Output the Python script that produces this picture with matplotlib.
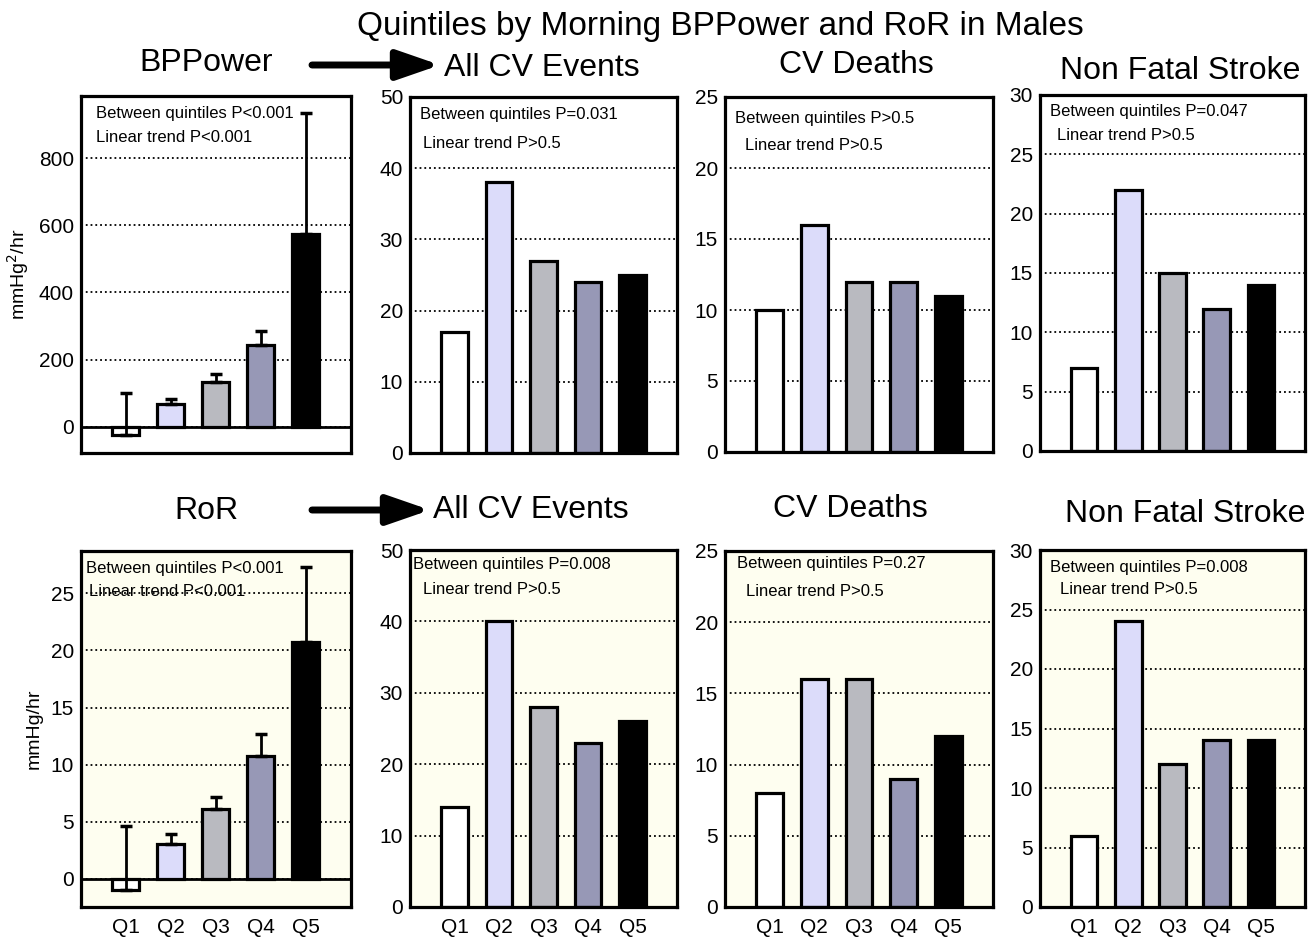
import matplotlib
matplotlib.use("Agg")
import matplotlib.pyplot as plt
from matplotlib.patches import FancyArrowPatch

plt.rcParams['font.family'] = ['Liberation Sans', 'DejaVu Sans']

quintiles = ["Q1", "Q2", "Q3", "Q4", "Q5"]
bar_colors = ["#ffffff", "#dcdcfa", "#b9bac0", "#9798b6", "#000000"]

# top row: BPPower quintiles
bpp_mean = [-25, 68, 133, 243, 575]
bpp_upper = [100, 83, 157, 284, 933]
bpp_all_cv = [17, 38, 27, 24, 25]
bpp_cv_deaths = [10, 16, 12, 12, 11]
bpp_stroke = [7, 22, 15, 12, 14]

# bottom row: RoR quintiles
ror_mean = [-1.0, 3.1, 6.1, 10.8, 20.7]
ror_upper = [4.6, 3.9, 7.2, 12.7, 27.3]
ror_all_cv = [14, 40, 28, 23, 26]
ror_cv_deaths = [8, 16, 16, 9, 12]
ror_stroke = [6, 24, 12, 14, 14]

top_notes = [("Between quintiles P<0.001", "Linear trend P<0.001"),
             ("Between quintiles P=0.031", "Linear trend P>0.5"),
             ("Between quintiles P>0.5", "Linear trend P>0.5"),
             ("Between quintiles P=0.047", "Linear trend P>0.5")]
bot_notes = [("Between quintiles P<0.001", "Linear trend P<0.001"),
             ("Between quintiles P=0.008", "Linear trend P>0.5"),
             ("Between quintiles P=0.27", "Linear trend P>0.5"),
             ("Between quintiles P=0.008", "Linear trend P>0.5")]

W, H = 1314, 940
fig = plt.figure(figsize=(W / 100, H / 100), dpi=100)

lefts = [81, 410, 725, 1040]
widths = [270, 267, 268, 265]


def make_ax(col, top_px, bot_px, bg):
    ax = fig.add_axes([lefts[col] / W, 1 - bot_px / H, widths[col] / W, (bot_px - top_px) / H])
    ax.set_facecolor(bg)
    for s in ax.spines.values():
        s.set_linewidth(2.3)
    ax.tick_params(axis='both', length=0, labelsize=15, pad=5)
    ax.tick_params(axis='x', pad=8)
    ax.set_xlim(-1, 5)
    ax.grid(axis='y', linestyle=':', color='black', linewidth=1.3)
    ax.set_axisbelow(True)
    return ax


def draw(ax, vals, ylim, yticks, notes, note_pos, upper=None, show_x=False):
    x = list(range(5))
    ax.bar(x, vals, width=0.6, color=bar_colors, edgecolor='black', linewidth=2.3, zorder=2)
    if upper is not None:
        err = [u - v for u, v in zip(upper, vals)]
        ax.errorbar(x, vals, yerr=[[0] * 5, err], fmt='none', ecolor='black',
                    elinewidth=2, capsize=4, capthick=2.5, zorder=3)
        ax.axhline(0, color='black', linewidth=2, zorder=2.5)
    ax.set_ylim(*ylim)
    ax.set_yticks(yticks)
    if show_x:
        ax.set_xticks(x)
        ax.set_xticklabels(quintiles)
    else:
        ax.set_xticks([])
    (x1, y1), (x2, y2) = note_pos
    ax.text(x1, y1, notes[0], transform=ax.transAxes, fontsize=12, va='center', zorder=4)
    ax.text(x2, y2, notes[1], transform=ax.transAxes, fontsize=12, va='center', zorder=4)


ivory = "#fefef0"

# top row
ax = make_ax(0, 96, 453, 'white')
draw(ax, bpp_mean, (-78, 985), [0, 200, 400, 600, 800], top_notes[0],
     [(0.055, 0.952), (0.055, 0.885)], upper=bpp_upper)
ax.set_ylabel("mmHg$^2$/hr", fontsize=14, labelpad=6)

ax = make_ax(1, 97, 453, 'white')
draw(ax, bpp_all_cv, (0, 50), range(0, 51, 10), top_notes[1],
     [(0.037, 0.952), (0.049, 0.868)])
ax = make_ax(2, 97, 452, 'white')
draw(ax, bpp_cv_deaths, (0, 25), range(0, 26, 5), top_notes[2],
     [(0.037, 0.94), (0.075, 0.863)])
ax = make_ax(3, 95, 451, 'white')
draw(ax, bpp_stroke, (0, 30), range(0, 31, 5), top_notes[3],
     [(0.038, 0.955), (0.064, 0.885)])

# bottom row
ax = make_ax(0, 551, 907, ivory)
draw(ax, ror_mean, (-2.45, 28.7), [0, 5, 10, 15, 20, 25], bot_notes[0],
     [(0.02, 0.952), (0.03, 0.885)], upper=ror_upper, show_x=True)
ax.set_ylabel("mmHg/hr", fontsize=14, labelpad=6)

ax = make_ax(1, 550, 907, ivory)
draw(ax, ror_all_cv, (0, 50), range(0, 51, 10), bot_notes[1],
     [(0.011, 0.958), (0.049, 0.89)], show_x=True)
ax = make_ax(2, 551, 907, ivory)
draw(ax, ror_cv_deaths, (0, 25), range(0, 26, 5), bot_notes[2],
     [(0.044, 0.966), (0.078, 0.885)], show_x=True)
ax = make_ax(3, 550, 907, ivory)
draw(ax, ror_stroke, (0, 30), range(0, 31, 5), bot_notes[3],
     [(0.038, 0.95), (0.075, 0.888)], show_x=True)

# titles
def ftext(xp, yp, s, size):
    fig.text(xp / W, 1 - yp / H, s, fontsize=size, ha='center', va='center')

ftext(720, 26, "Quintiles by Morning BPPower and RoR in Males", 24)
ftext(206, 63, "BPPower", 23)
ftext(542, 68, "All CV Events", 23)
ftext(856, 65, "CV Deaths", 23)
ftext(1180, 71, "Non Fatal Stroke", 23)
ftext(206, 511, "RoR", 23)
ftext(531, 510, "All CV Events", 23)
ftext(850, 509, "CV Deaths", 23)
ftext(1185, 514, "Non Fatal Stroke", 23)

for x0, x1, yp in [(312, 440, 65), (312, 430, 510)]:
    arr = FancyArrowPatch((x0 / W, 1 - yp / H), (x1 / W, 1 - yp / H),
                          transform=fig.transFigure, arrowstyle='-|>,head_length=1.3,head_width=0.45',
                          mutation_scale=20, linewidth=5, color='black', capstyle='round',
                          shrinkA=0, shrinkB=0)
    fig.add_artist(arr)

fig.savefig("out.png", dpi=100)
